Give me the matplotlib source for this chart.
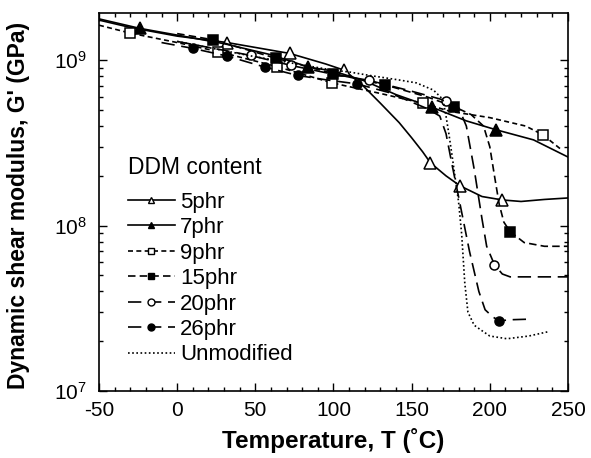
import matplotlib
matplotlib.use("Agg")
import matplotlib.pyplot as plt
from matplotlib.lines import Line2D
from matplotlib.ticker import LogLocator, MultipleLocator, NullFormatter

plt.rcParams['font.family'] = ['Liberation Sans', 'DejaVu Sans']
plt.rcParams['mathtext.fontset'] = 'custom'
plt.rcParams['mathtext.rm'] = 'Liberation Sans'
plt.rcParams['mathtext.it'] = 'Liberation Sans'
plt.rcParams['axes.unicode_minus'] = False

# ---- data (temperature in C, modulus in Pa) ----
labels = ["5phr", "7phr", "9phr", "15phr", "20phr", "26phr", "Unmodified"]

t_5 = [-50, -30, 0, 32, 72, 95, 107, 119, 130, 142, 150, 157, 162, 172, 181, 195, 208, 220, 235, 250]
g_5 = [1.75e9, 1.58e9, 1.40e9, 1.28e9, 1.10e9, 9.5e8, 8.7e8, 7.0e8, 5.5e8, 4.2e8, 3.4e8, 2.8e8, 2.4e8, 2.0e8, 1.74e8, 1.5e8, 1.43e8, 1.40e8, 1.44e8, 1.47e8]
tm_5 = [32, 72, 107, 162, 181, 208]
gm_5 = [1.28e9, 1.10e9, 8.7e8, 2.4e8, 1.74e8, 1.43e8]

t_7 = [-50, -24, 0, 30, 60, 84, 100, 120, 140, 163, 185, 204, 228, 250]
g_7 = [1.78e9, 1.56e9, 1.42e9, 1.26e9, 1.08e9, 9.1e8, 8.6e8, 7.5e8, 6.2e8, 5.2e8, 4.3e8, 3.8e8, 3.3e8, 2.6e8]
tm_7 = [-24, 84, 163, 204]
gm_7 = [1.56e9, 9.1e8, 5.2e8, 3.8e8]

t_9 = [-50, -30, 0, 26, 64, 99, 130, 157, 175, 200, 223, 234, 246]
g_9 = [1.63e9, 1.46e9, 1.28e9, 1.13e9, 9.15e8, 7.3e8, 6.3e8, 5.5e8, 4.9e8, 4.5e8, 4.0e8, 3.54e8, 2.87e8]
tm_9 = [-30, 26, 64, 99, 157, 234]
gm_9 = [1.46e9, 1.13e9, 9.15e8, 7.3e8, 5.5e8, 3.54e8]

t_15 = [0, 23, 63, 100, 133, 160, 177, 188, 196, 200, 203, 206, 209, 213, 222, 235, 250]
g_15 = [1.45e9, 1.33e9, 1.03e9, 8.3e8, 7.1e8, 6.0e8, 5.25e8, 4.7e8, 4.0e8, 3.0e8, 2.0e8, 1.35e8, 1.05e8, 9.2e7, 7.9e7, 7.5e7, 7.5e7]
tm_15 = [23, 63, 100, 133, 177, 213]
gm_15 = [1.33e9, 1.03e9, 8.3e8, 7.1e8, 5.25e8, 9.2e7]

t_20 = [0, 47, 73, 98, 123, 150, 172, 180, 185, 190, 195, 198, 203, 208, 213, 230, 250]
g_20 = [1.3e9, 1.07e9, 9.3e8, 8.3e8, 7.55e8, 6.5e8, 5.7e8, 5.2e8, 4.0e8, 2.2e8, 1.1e8, 7.5e7, 5.8e7, 5.1e7, 4.9e7, 4.9e7, 4.9e7]
tm_20 = [47, 73, 123, 172, 203]
gm_20 = [1.07e9, 9.3e8, 7.55e8, 5.7e8, 5.8e7]

t_26 = [-10, 10, 32, 56, 77, 96, 115, 135, 160, 168, 172, 176, 180, 187, 193, 197, 202, 206, 215, 226]
g_26 = [1.28e9, 1.18e9, 1.06e9, 9.1e8, 8.1e8, 7.6e8, 7.2e8, 6.4e8, 5.1e8, 4.6e8, 3.6e8, 2.3e8, 1.5e8, 7.0e7, 4.0e7, 3.1e7, 2.8e7, 2.66e7, 2.7e7, 2.72e7]
tm_26 = [10, 32, 56, 77, 115, 206]
gm_26 = [1.18e9, 1.06e9, 9.1e8, 8.1e8, 7.2e8, 2.66e7]

t_un = [0, 50, 100, 110, 123, 142, 153, 164, 170, 172, 174, 176, 178, 180, 182, 184, 186, 190, 194, 200, 211, 225, 238]
g_un = [1.3e9, 1.05e9, 8.7e8, 8.5e8, 8.1e8, 7.6e8, 7.3e8, 6.6e8, 5.8e8, 4.6e8, 3.5e8, 2.6e8, 1.9e8, 1.4e8, 8.9e7, 4.5e7, 3.0e7, 2.5e7, 2.35e7, 2.15e7, 2.07e7, 2.15e7, 2.29e7]

x_ticks = [-50, 0, 50, 100, 150, 200, 250]

# ---- styles ----
styles = {
    "5phr": dict(ls='-', marker='^', mfc='white', ms=8.5),
    "7phr": dict(ls='-', marker='^', mfc='black', ms=8.5),
    "9phr": dict(ls=(0, (3, 2)), marker='s', mfc='white', ms=7),
    "15phr": dict(ls=(0, (4.5, 2.5)), marker='s', mfc='black', ms=7),
    "20phr": dict(ls=(0, (8, 4)), marker='o', mfc='white', ms=6.5),
    "26phr": dict(ls=(0, (8, 4)), marker='o', mfc='black', ms=6.5),
    "Unmodified": dict(ls=(0, (1, 1.5)), marker=None, mfc='black', ms=0),
}

series = {
    "5phr": (t_5, g_5, tm_5, gm_5),
    "7phr": (t_7, g_7, tm_7, gm_7),
    "9phr": (t_9, g_9, tm_9, gm_9),
    "15phr": (t_15, g_15, tm_15, gm_15),
    "20phr": (t_20, g_20, tm_20, gm_20),
    "26phr": (t_26, g_26, tm_26, gm_26),
    "Unmodified": (t_un, g_un, [], []),
}

fig = plt.figure(figsize=(5.91, 4.58), dpi=100)
ax = fig.add_axes([0.1675, 0.1463, 0.7935, 0.8260])

lw = 1.2
handles = []
for name in labels:
    t, g, tm, gm = series[name]
    st = styles[name]
    ax.plot(t, g, color='black', linestyle=st['ls'], lw=lw)
    if st['marker'] is not None and len(tm):
        ax.plot(tm, gm, linestyle='none', marker=st['marker'], ms=st['ms'],
                mfc=st['mfc'], mec='black', mew=1.1)
    handles.append(Line2D([], [], color='black', linestyle=st['ls'], lw=lw,
                          marker=st['marker'], ms=5, mfc=st['mfc'],
                          mec='black', mew=1.0))

ax.set_yscale('log')
ax.set_xlim(-50, 250)
ax.set_ylim(1e7, 1.94e9)
ax.set_xticks(x_ticks)
ax.xaxis.set_minor_locator(MultipleLocator(10))
ax.yaxis.set_major_locator(LogLocator(base=10, numticks=10))
ax.yaxis.set_minor_locator(LogLocator(base=10, subs=range(2, 10), numticks=20))
ax.yaxis.set_minor_formatter(NullFormatter())

ax.tick_params(which='both', direction='in', top=True, right=True, width=1.0)
ax.tick_params(which='major', length=6, labelsize=15)
ax.tick_params(axis='x', which='major', pad=7)
ax.tick_params(axis='y', which='major', pad=9)
ax.tick_params(which='minor', length=3.2)
for sp in ax.spines.values():
    sp.set_linewidth(1.2)

ax.set_xlabel("Temperature, T (˚C)", fontsize=17.5, fontweight='bold')
ax.set_ylabel("Dynamic shear modulus, G' (GPa)", fontsize=16.5, fontweight='bold')
ax.xaxis.set_label_coords(0.5, -0.098)
ax.yaxis.set_label_coords(-0.147, 0.49)

ax.text(0.062, 0.592, "DDM content", transform=ax.transAxes, fontsize=16.5,
        ha='left', va='center')
leg = ax.legend(handles, labels, loc='upper left',
                bbox_to_anchor=(0.043, 0.55), frameon=False, fontsize=16,
                handlelength=2.1, handletextpad=0.25,
                labelspacing=0.2, borderaxespad=0.0)

fig.savefig("out.png", dpi=100)
